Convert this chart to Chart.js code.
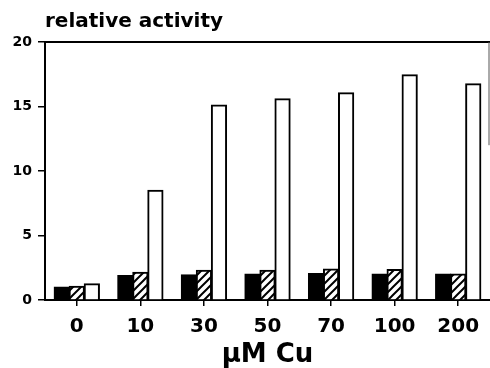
<!DOCTYPE html>
<html>
<head>
<meta charset="utf-8">
<script src="https://cdn.jsdelivr.net/npm/chart.js@4/dist/chart.umd.min.js"></script>
<style>
  html, body { margin: 0; padding: 0; background: #fff; }
  #wrap { width: 490px; height: 368px; position: relative; }
</style>
</head>
<body>
<div id="wrap"><canvas id="chart"></canvas></div>
<script>
// values
const doses = ['0', '10', '30', '50', '70', '100', '200'];
const solidBars = [1.0, 1.9, 1.95, 2.0, 2.05, 2.0, 2.0];
const hatchedBars = [1.05, 2.15, 2.3, 2.3, 2.4, 2.35, 2.0];
const openBars = [1.25, 8.5, 15.1, 15.6, 16.05, 17.45, 16.75];
const yTicks = [0, 5, 10, 15, 20];

const FONT = '"DejaVu Sans", Arial, sans-serif';

function hatch() {
  const n = 8;
  const c = document.createElement('canvas');
  c.width = n; c.height = n;
  const g = c.getContext('2d');
  g.fillStyle = '#fff';
  g.fillRect(0, 0, n, n);
  g.strokeStyle = '#000';
  g.lineWidth = 2;
  g.beginPath();
  g.moveTo(-1, n + 1); g.lineTo(n + 1, -1);
  g.moveTo(-n / 2 - 1, n / 2 + 1); g.lineTo(n / 2 + 1, -n / 2 - 1);
  g.moveTo(n / 2 - 1, n * 1.5 + 1); g.lineTo(n * 1.5 + 1, n / 2 - 1);
  g.stroke();
  return g.createPattern(c, 'repeat');
}

// top edge and the short piece of right edge visible in the scan
const frame = {
  id: 'frame',
  afterDraw(chart) {
    const { ctx, chartArea: a, scales } = chart;
    ctx.save();
    ctx.strokeStyle = '#000';
    ctx.lineWidth = 2;
    ctx.beginPath();
    ctx.moveTo(a.left, a.top);
    ctx.lineTo(a.right, a.top);
    ctx.stroke();
    ctx.lineWidth = 1;
    ctx.strokeStyle = '#555';
    ctx.beginPath();
    ctx.moveTo(a.right - 1, a.top);
    ctx.lineTo(a.right - 1, scales.y.getPixelForValue(12));
    ctx.stroke();
    ctx.restore();
  }
};

const bar = (data, fill) => ({
  data,
  backgroundColor: fill,
  borderColor: '#000',
  borderWidth: 2,
  inflateAmount: 0.6,
  categoryPercentage: 0.71,
  barPercentage: 1.0
});

new Chart(document.getElementById('chart'), {
  type: 'bar',
  data: {
    labels: doses,
    datasets: [
      bar(solidBars, '#000'),
      bar(hatchedBars, hatch()),
      bar(openBars, '#fff')
    ]
  },
  options: {
    responsive: true,
    maintainAspectRatio: false,
    animation: false,
    layout: { padding: { top: 0, right: 0, bottom: 0, left: 0 } },
    plugins: {
      legend: { display: false },
      tooltip: { enabled: false },
      title: {
        display: true,
        text: 'relative activity',
        align: 'start',
        fullSize: false,
        color: '#000',
        font: { family: FONT, size: 20, weight: 'bold', lineHeight: 1.2 },
        padding: { top: 10, bottom: 8 }
      }
    },
    scales: {
      x: {
        afterFit: s => { s.height = 68; },
        border: { color: '#000', width: 2 },
        grid: { offset: false, drawOnChartArea: false, tickLength: 6, color: '#000', lineWidth: 1.5 },
        ticks: { color: '#000', padding: 9, font: { family: FONT, size: 20, weight: 'bold' } },
        title: {
          display: true,
          text: 'μM Cu',
          color: '#000',
          font: { family: FONT, size: 26, weight: 'bold', lineHeight: 1.0 },
          padding: { top: 0, bottom: 0 }
        }
      },
      y: {
        min: 0,
        max: 20,
        afterFit: s => { s.width = 45; },
        afterBuildTicks: s => { s.ticks = yTicks.map(v => ({ value: v })); },
        border: { color: '#000', width: 2 },
        grid: { drawOnChartArea: false, tickLength: 7, color: '#000', lineWidth: 1.5 },
        ticks: { color: '#000', padding: 6, font: { family: FONT, size: 14, weight: 'bold' } }
      }
    }
  },
  plugins: [frame]
});
</script>
</body>
</html>
